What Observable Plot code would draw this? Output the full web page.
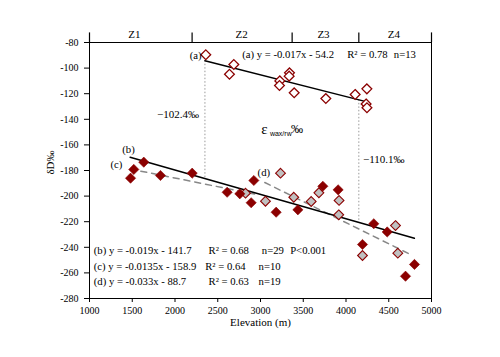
<!DOCTYPE html>
<html><head><meta charset="utf-8">
<script src="https://cdn.jsdelivr.net/npm/d3@7"></script>
<script src="https://cdn.jsdelivr.net/npm/@observablehq/plot@0.6"></script>
<style>body{margin:0;background:#fff;}</style>
</head><body><div id="chart"></div>
<script>
// (a) open diamonds
const aElev = [2360, 2688, 2637, 3339, 3335, 3226, 3222, 3394, 3764, 4107, 4244, 4235, 4245];
const aD    = [-89.6, -97.2, -104.8, -103.7, -106.3, -110, -113.6, -119.3, -123.8, -120.6, -116.2, -128, -131];
// filled dark red diamonds
const fElev = [1480, 1518, 1635, 1830, 2201, 2610, 2758, 2891, 2922, 3183, 3437, 3729, 3908, 4193, 4325, 4482, 4696, 4801];
const fD    = [-186, -179.2, -173.5, -183.9, -182.1, -197, -198.2, -205.2, -187.8, -212.6, -210.7, -192.3, -195.1, -237.8, -221.6, -228, -262.6, -253.4];
// grey diamonds
const gElev = [2825, 3058, 3234, 3389, 3593, 3683, 3919, 3915, 4193, 4579, 4606];
const gD    = [-197.7, -204, -182.1, -200.9, -204.2, -197.4, -203.4, -214.6, -246.4, -223, -244.6];
// regression line end points
const lineAElev = [2350, 4245], lineAD = [-94.2, -126.4];
const lineBElev = [1475, 4800], lineBD = [-169.7, -232.9];
const lineCElev = [1600, 2950], lineCD = [-180.5, -198.7];
const lineDElev = [3050, 4750], lineDD = [-189.4, -245.5];
// epsilon dotted markers
const epsElev = [2350, 4150];
const epsTop = [-94.2, -124.8];
const epsBottom = [-186.4, -220.6];
const epsLabels = ["\u2212102.4\u2030", "\u2212110.1\u2030"];
// zones
const zoneBounds = [1000, 2200, 3370, 4150, 5000];
const zoneNames = ["Z1", "Z2", "Z3", "Z4"];
const zoneMid = [1526, 2778, 3737, 4560];
// ticks
const xTicks = [1000, 1500, 2000, 2500, 3000, 3500, 4000, 4500, 5000];
const yTicks = [-280, -260, -240, -220, -200, -180, -160, -140, -120, -100, -80];
// equations
const eqNames = ["(b) y = -0.019x - 141.7", "(c) y = -0.0135x - 158.9", "(d) y = -0.033x - 88.7"];
const eqR2 = ["R\u00b2 = 0.68", "R\u00b2 = 0.64", "R\u00b2 = 0.63"];
const eqN = ["n=29", "n=10", "n=19"];
const eqR2Elev = [2392, 2353, 2392];
const eqNElev = [3015, 2977, 2977];
const eqY = [-242.5, -254.8, -266.5];

const red = "#8b0000";
const pts = (xs, ys) => xs.map((x, i) => ({x, y: ys[i]}));
const fs = 10.7;

const chart = Plot.plot({
  width: 500, height: 357,
  marginLeft: 89, marginRight: 69, marginTop: 42, marginBottom: 59,
  x: {domain: [1000, 5000], label: null},
  y: {domain: [-280, -80], label: null},
  style: {fontFamily: "'Liberation Serif', 'Times New Roman', serif", fontSize: "11px", background: "#fff", color: "#000"},
  marks: [
    Plot.axisX({ticks: xTicks, tickSize: 4, tickPadding: 4, fontSize: 10, tickFormat: d => String(d), label: null}),
    Plot.axisY({ticks: yTicks, tickSize: 5, tickPadding: 6, fontSize: 10, tickFormat: d => String(d), label: null}),
    Plot.frame({stroke: "#000"}),
    Plot.ruleX(zoneBounds, {x: d => d, y1: -80, y2: -72.5, stroke: "#000", strokeWidth: 1.2}),
    Plot.text(zoneNames, {x: (d, i) => zoneMid[i], y: -73.6, text: d => d, fontSize: 11}),
    Plot.text(["Elevation (m)"], {frameAnchor: "bottom", dy: 27, text: d => d, fontSize: 11}),
    Plot.text(["\u03b4D\u2030"], {frameAnchor: "left", dx: -39, dy: -8, rotate: -90, textAnchor: "middle", text: d => d, fontSize: 11}),
    // dotted epsilon lines
    Plot.ruleX(epsElev, {x: d => d, y1: (d, i) => epsTop[i], y2: (d, i) => epsBottom[i], stroke: "#999", strokeDasharray: "1.5,2", strokeWidth: 1}),
    // regression lines
    Plot.line(pts(lineCElev, lineCD), {x: "x", y: "y", stroke: "#888", strokeWidth: 1.5, strokeDasharray: "6,5"}),
    Plot.line(pts(lineDElev, lineDD), {x: "x", y: "y", stroke: "#888", strokeWidth: 1.5, strokeDasharray: "6,5"}),
    Plot.line(pts(lineAElev, lineAD), {x: "x", y: "y", stroke: "#000", strokeWidth: 1.5}),
    Plot.line(pts(lineBElev, lineBD), {x: "x", y: "y", stroke: "#000", strokeWidth: 1.5}),
    // points
    Plot.dot(pts(aElev, aD), {x: "x", y: "y", symbol: "diamond2", r: 4.4, fill: "#fff", stroke: red, strokeWidth: 1.3}),
    Plot.dot(pts(gElev, gD), {x: "x", y: "y", symbol: "diamond2", r: 4.4, fill: "#c0c0c0", stroke: red, strokeWidth: 1.1}),
    Plot.dot(pts(fElev, fD), {x: "x", y: "y", symbol: "diamond2", r: 4.6, fill: red, stroke: red, strokeWidth: 0.6}),
    // labels
    Plot.text(["(a)"], {x: 2310, y: -90.2, text: d => d, textAnchor: "end", fontSize: fs}),
    Plot.text(["(b)"], {x: 1456, y: -163.8, text: d => d, fontSize: fs}),
    Plot.text(["(c)"], {x: 1314, y: -175.3, text: d => d, fontSize: fs}),
    Plot.text(["(d)"], {x: 3039, y: -181.3, text: d => d, fontSize: fs}),
    Plot.text(["(a) y = -0.017x - 54.2"], {x: 2786, y: -89.4, text: d => d, textAnchor: "start", fontSize: fs}),
    Plot.text(["R\u00b2 = 0.78"], {x: 4014, y: -89.4, text: d => d, textAnchor: "start", fontSize: fs}),
    Plot.text(["n=13"], {x: 4559, y: -89.4, text: d => d, textAnchor: "start", fontSize: fs}),
    Plot.text(epsLabels, {x: [2035, 4442], y: [-136.3, -171.6], text: d => d, fontSize: 11}),
    Plot.text(["\u03b5"], {x: 3008, y: -147.5, text: d => d, fontSize: 15, textAnchor: "start"}),
    Plot.text(["wax/rw"], {x: 3110, y: -151.2, text: d => d, fontSize: 7, fontFamily: "'Liberation Sans', Arial, sans-serif", textAnchor: "start"}),
    Plot.text(["\u2030"], {x: 3358, y: -147.5, text: d => d, fontSize: 12, textAnchor: "start"}),
    Plot.text(eqNames, {x: 1050, y: (d, i) => eqY[i], text: d => d, textAnchor: "start", fontSize: fs}),
    Plot.text(eqR2, {x: (d, i) => eqR2Elev[i], y: (d, i) => eqY[i], text: d => d, textAnchor: "start", fontSize: fs}),
    Plot.text(eqN, {x: (d, i) => eqNElev[i], y: (d, i) => eqY[i], text: d => d, textAnchor: "start", fontSize: fs}),
    Plot.text(["P<0.001"], {x: 3347, y: -242.5, text: d => d, textAnchor: "start", fontSize: fs})
  ]
});
document.getElementById("chart").appendChild(chart);
</script>
</body></html>
